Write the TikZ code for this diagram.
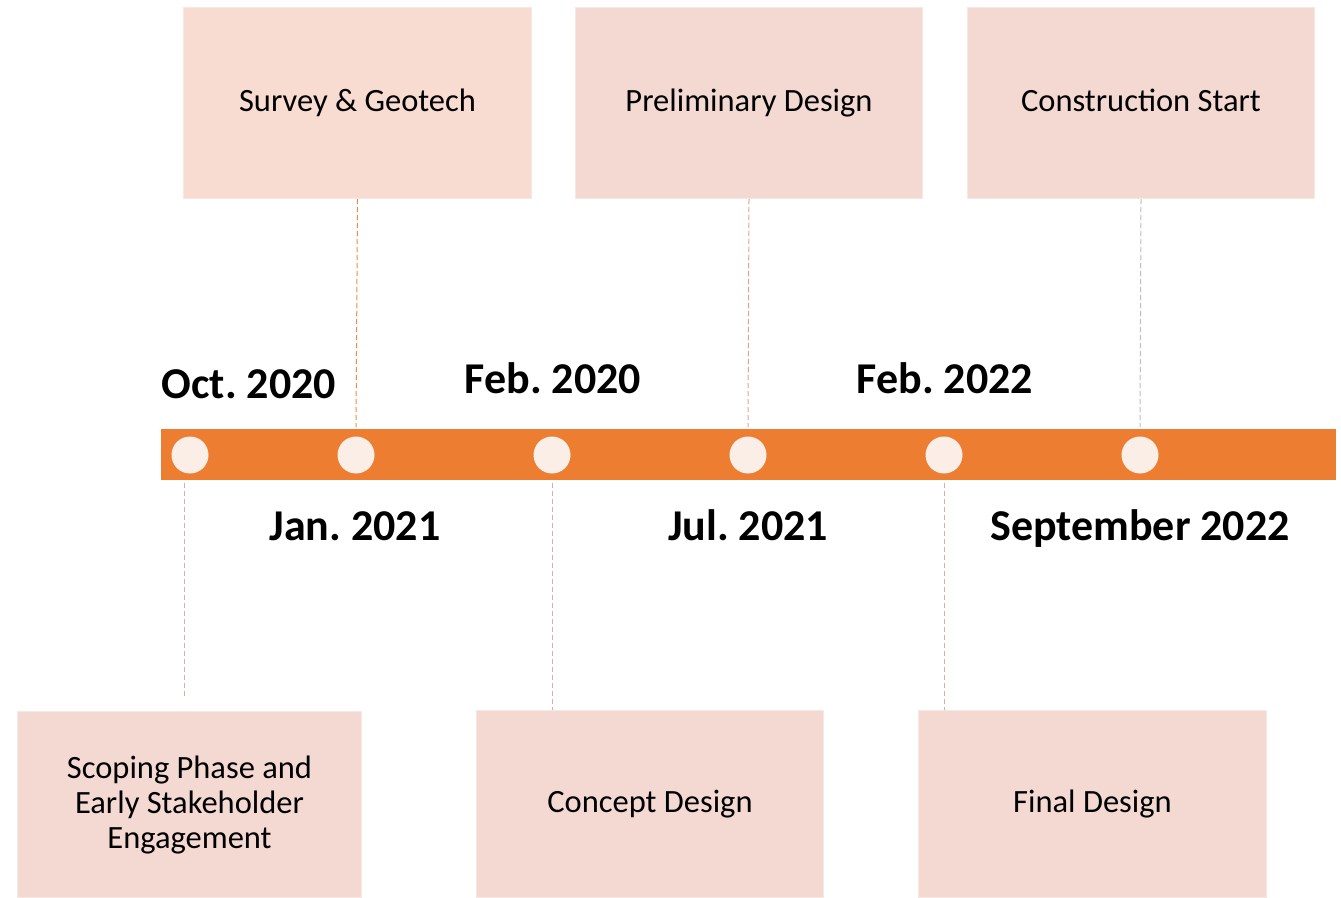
\documentclass[tikz,border=0pt]{standalone}
\usepackage{fontspec}
\setmainfont{Carlito}
\frenchspacing
\definecolor{barorange}{HTML}{ED7D31}
\definecolor{dotfill}{HTML}{FBEEE6}
\definecolor{boxA}{HTML}{F8DBD1}
\definecolor{boxB}{HTML}{F3D9D2}
\definecolor{boxedge}{HTML}{F6E8E3}
\definecolor{lnorange}{HTML}{F08A4B}
\definecolor{lnred}{HTML}{E3A090}
\definecolor{lnpink}{HTML}{E2AAA0}
\definecolor{lngray}{HTML}{BDBDBD}
\tikzset{
  phasebox/.style={draw=boxedge, line width=1pt, fill=boxB, inner sep=0pt, align=center,
    font=\fontsize{32.5}{35}\selectfont},
  datelbl/.style={font=\fontsize{44}{46}\selectfont\bfseries, inner sep=0pt, anchor=base},
  dot/.style={circle, fill=dotfill, minimum size=37pt, inner sep=0pt},
  conn/.style={dash pattern=on 5pt off 3pt, line width=1pt},
}
\begin{document}
\begin{tikzpicture}[x=1pt,y=-1pt]
\useasboundingbox (0,0) rectangle (1341,897);
% bar
\node[draw=none, fill=barorange, minimum width=1175pt, minimum height=51pt, inner sep=0pt, anchor=north west] (bar) at (161,429) {};
% dots
\node[dot] (d1) at (190,455) {};
\node[dot] (d2) at (356,455) {};
\node[dot] (d3) at (552,455) {};
\node[dot] (d4) at (748,455) {};
\node[dot] (d5) at (944,455) {};
\node[dot] (d6) at (1140,455) {};
% top boxes
\node[phasebox, fill=boxA, minimum width=348pt, minimum height=191pt, anchor=north west] (b1) at (183,7) {Survey \& Geotech};
\node[phasebox, minimum width=347pt, minimum height=191pt, anchor=north west] (b2) at (575,7) {Preliminary Design};
\node[phasebox, minimum width=347pt, minimum height=191pt, anchor=north west] (b3) at (967,7) {Construction Start\vphantom{g}};
% bottom boxes
\node[phasebox, minimum width=344pt, minimum height=186pt, anchor=north west] (c1) at (17,711) {Scoping Phase and\\Early Stakeholder\\Engagement};
\node[phasebox, minimum width=347pt, minimum height=187pt, anchor=north west] (c2) at (476,710) {Concept Design};
\node[phasebox, minimum width=348pt, minimum height=187pt, anchor=north west] (c3) at (918,710) {Final Design};
% connector ends
\coordinate (t2) at (356,427);
\coordinate (t4) at (748,427);
\coordinate (t6) at (1140,427);
\coordinate (u1) at (184,483);
\coordinate (u3) at (552,483);
\coordinate (u5) at (944,483);
\coordinate (e1) at (184,698);
\draw[conn, draw=lnorange] (b1.south) -- (t2);
\draw[conn, draw=lnred] (b2.south) -- (t4);
\draw[conn, draw=lngray] (b3.south) -- (t6);
\draw[conn, draw=lnpink] (u1) -- (e1);
\draw[conn, draw=lnpink] (u3) -- (u3 |- c2.north);
\draw[conn, draw=lnpink] (u5) -- (u5 |- c3.north);
% date labels
\node[datelbl] (l1) at (249,398) {Oct. 2020};
\node[datelbl] (l2) at (553,393) {Feb. 2020};
\node[datelbl] (l3) at (945,393) {Feb. 2022};
\node[datelbl] (l4) at (355,540) {Jan. 2021};
\node[datelbl] (l5) at (748,540) {Jul. 2021};
\node[datelbl] (l6) at (1140,540) {September 2022};
\end{tikzpicture}
\end{document}
